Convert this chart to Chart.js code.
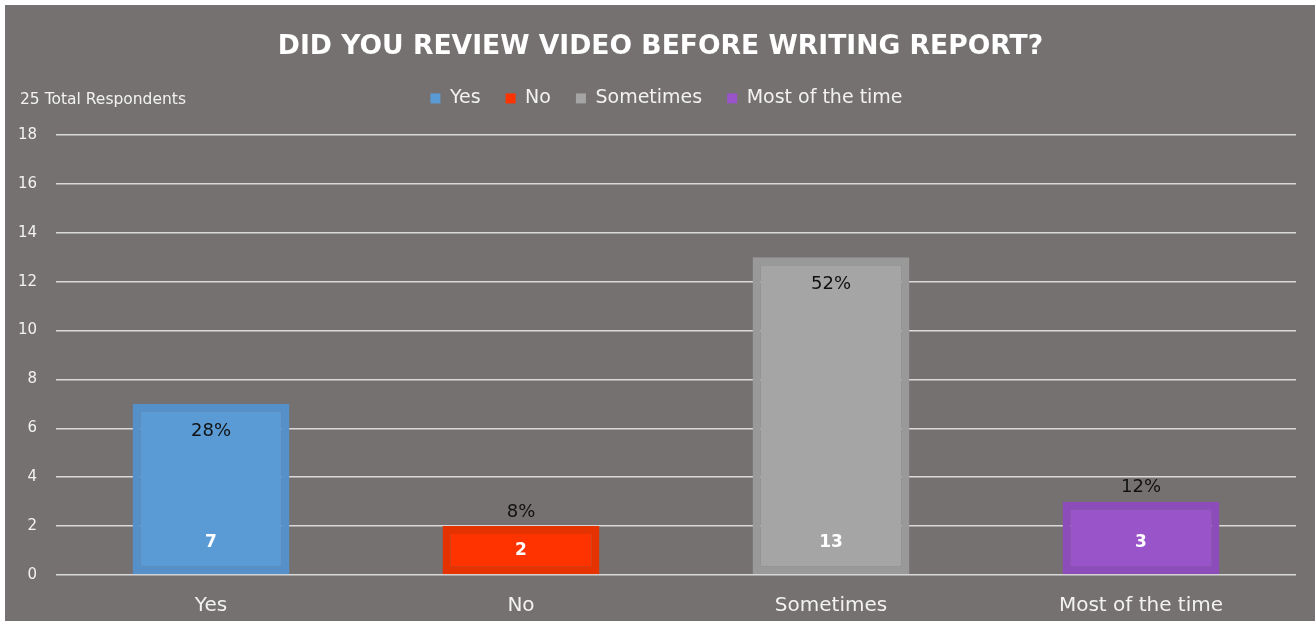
<!DOCTYPE html>
<html>
<head>
<meta charset="utf-8">
<script src="https://cdn.jsdelivr.net/npm/chart.js@4.4.1/dist/chart.umd.min.js"></script>
<style>
    html, body { margin: 0; padding: 0; background: #ffffff; }
    body { width: 1315px; height: 621px; overflow: hidden; }
    #wrap { position: absolute; left: 5px; top: 5px; width: 1310px; height: 616px; background: #767171; }
</style>
</head>
<body>
<div id="wrap"><canvas id="chart"></canvas></div>
<script>
// Chart data
const categories = ['Yes', 'No', 'Sometimes', 'Most of the time'];
const respondents = [7, 2, 13, 3];
const yTicks = [0, 2, 4, 6, 8, 10, 12, 14, 16, 18];

const fillColors = ['#5B9BD5', '#FF3300', '#A5A5A5', '#9954C9'];
const edgeColors = ['#5590C8', '#E43200', '#999999', '#8C4CBA'];

const totalRespondents = respondents.reduce((a, b) => a + b, 0);
const FONT = "'DejaVu Sans', sans-serif";

// Extra room under the legend, and title/legend nudged to the page centre
const headerTweak = {
    id: 'headerTweak',
    beforeInit(chart) {
        const fit = chart.legend.fit;
        chart.legend.fit = function () {
            fit.call(this);
            this.height += 17;
        };
    },
    afterLayout(chart) {
        chart.titleBlock.left += 10;
        chart.titleBlock.right += 10;
        chart.legend.left += 16;
        chart.legend.right += 16;
    }
};

// Note text in the top left corner
const notePlugin = {
    id: 'note',
    afterDraw(chart) {
        const ctx = chart.ctx;
        ctx.save();
        ctx.font = `15.5px ${FONT}`;
        ctx.fillStyle = '#f2f2f2';
        ctx.textAlign = 'left';
        ctx.textBaseline = 'middle';
        ctx.fillText(`${totalRespondents} Total Respondents`, 15, 95);
        ctx.restore();
    }
};

// Percent label near the top, count label near the base
const barLabels = {
    id: 'barLabels',
    afterDatasetsDraw(chart) {
        const ctx = chart.ctx;
        const meta = chart.getDatasetMeta(0);
        ctx.save();
        ctx.textAlign = 'center';
        ctx.textBaseline = 'middle';
        meta.data.forEach((bar, i) => {
            const value = respondents[i];
            const pct = Math.round(value / totalRespondents * 100) + '%';
            const h = bar.base - bar.y;

            ctx.font = `18px ${FONT}`;
            ctx.fillStyle = '#111111';
            const pctY = h > 100 ? bar.y + 27 : bar.y - 14;
            ctx.fillText(pct, bar.x, pctY);

            ctx.font = `bold 17px ${FONT}`;
            ctx.fillStyle = '#ffffff';
            const countY = Math.max(bar.base - 32, (bar.y + bar.base) / 2);
            ctx.fillText(String(value), bar.x, countY);
        });
        ctx.restore();
    }
};

new Chart(document.getElementById('chart'), {
    type: 'bar',
    data: {
        labels: categories,
        datasets: [{
            label: 'Respondents',
            data: respondents,
            backgroundColor: fillColors,
            borderColor: edgeColors,
            borderWidth: 8,
            borderSkipped: false,
            categoryPercentage: 1,
            barPercentage: 0.506
        }]
    },
    options: {
        responsive: true,
        maintainAspectRatio: false,
        animation: false,
        layout: { padding: { left: 0, right: 19, top: 0, bottom: 0 } },
        plugins: {
            title: {
                display: true,
                text: 'DID YOU REVIEW VIDEO BEFORE WRITING REPORT?',
                color: '#ffffff',
                font: { family: FONT, size: 26.6, weight: 'bold' },
                padding: { top: 26, bottom: 1 }
            },
            legend: {
                display: true,
                position: 'top',
                labels: {
                    color: '#f2f2f2',
                    font: { family: FONT, size: 19 },
                    boxWidth: 10,
                    boxHeight: 10,
                    padding: 25,
                    generateLabels: () => categories.map((c, i) => ({
                        text: c,
                        fillStyle: fillColors[i],
                        strokeStyle: fillColors[i],
                        lineWidth: 0,
                        fontColor: '#f2f2f2',
                        index: i
                    }))
                }
            },
            tooltip: { enabled: false }
        },
        scales: {
            x: {
                grid: { display: false, drawTicks: false },
                border: { display: false },
                afterFit: (scale) => { scale.height = 46; },
                ticks: {
                    color: '#f2f2f2',
                    font: { family: FONT, size: 20 },
                    padding: 19
                }
            },
            y: {
                min: 0,
                max: yTicks[yTicks.length - 1],
                afterBuildTicks: (scale) => { scale.ticks = yTicks.map(v => ({ value: v })); },
                afterFit: (scale) => { scale.width = 51; },
                grid: { color: '#d9d9d9', lineWidth: 1.5, drawTicks: false },
                border: { display: false },
                ticks: {
                    color: '#f2f2f2',
                    font: { family: FONT, size: 15 },
                    padding: 19
                }
            }
        }
    },
    plugins: [headerTweak, notePlugin, barLabels]
});
</script>
</body>
</html>
